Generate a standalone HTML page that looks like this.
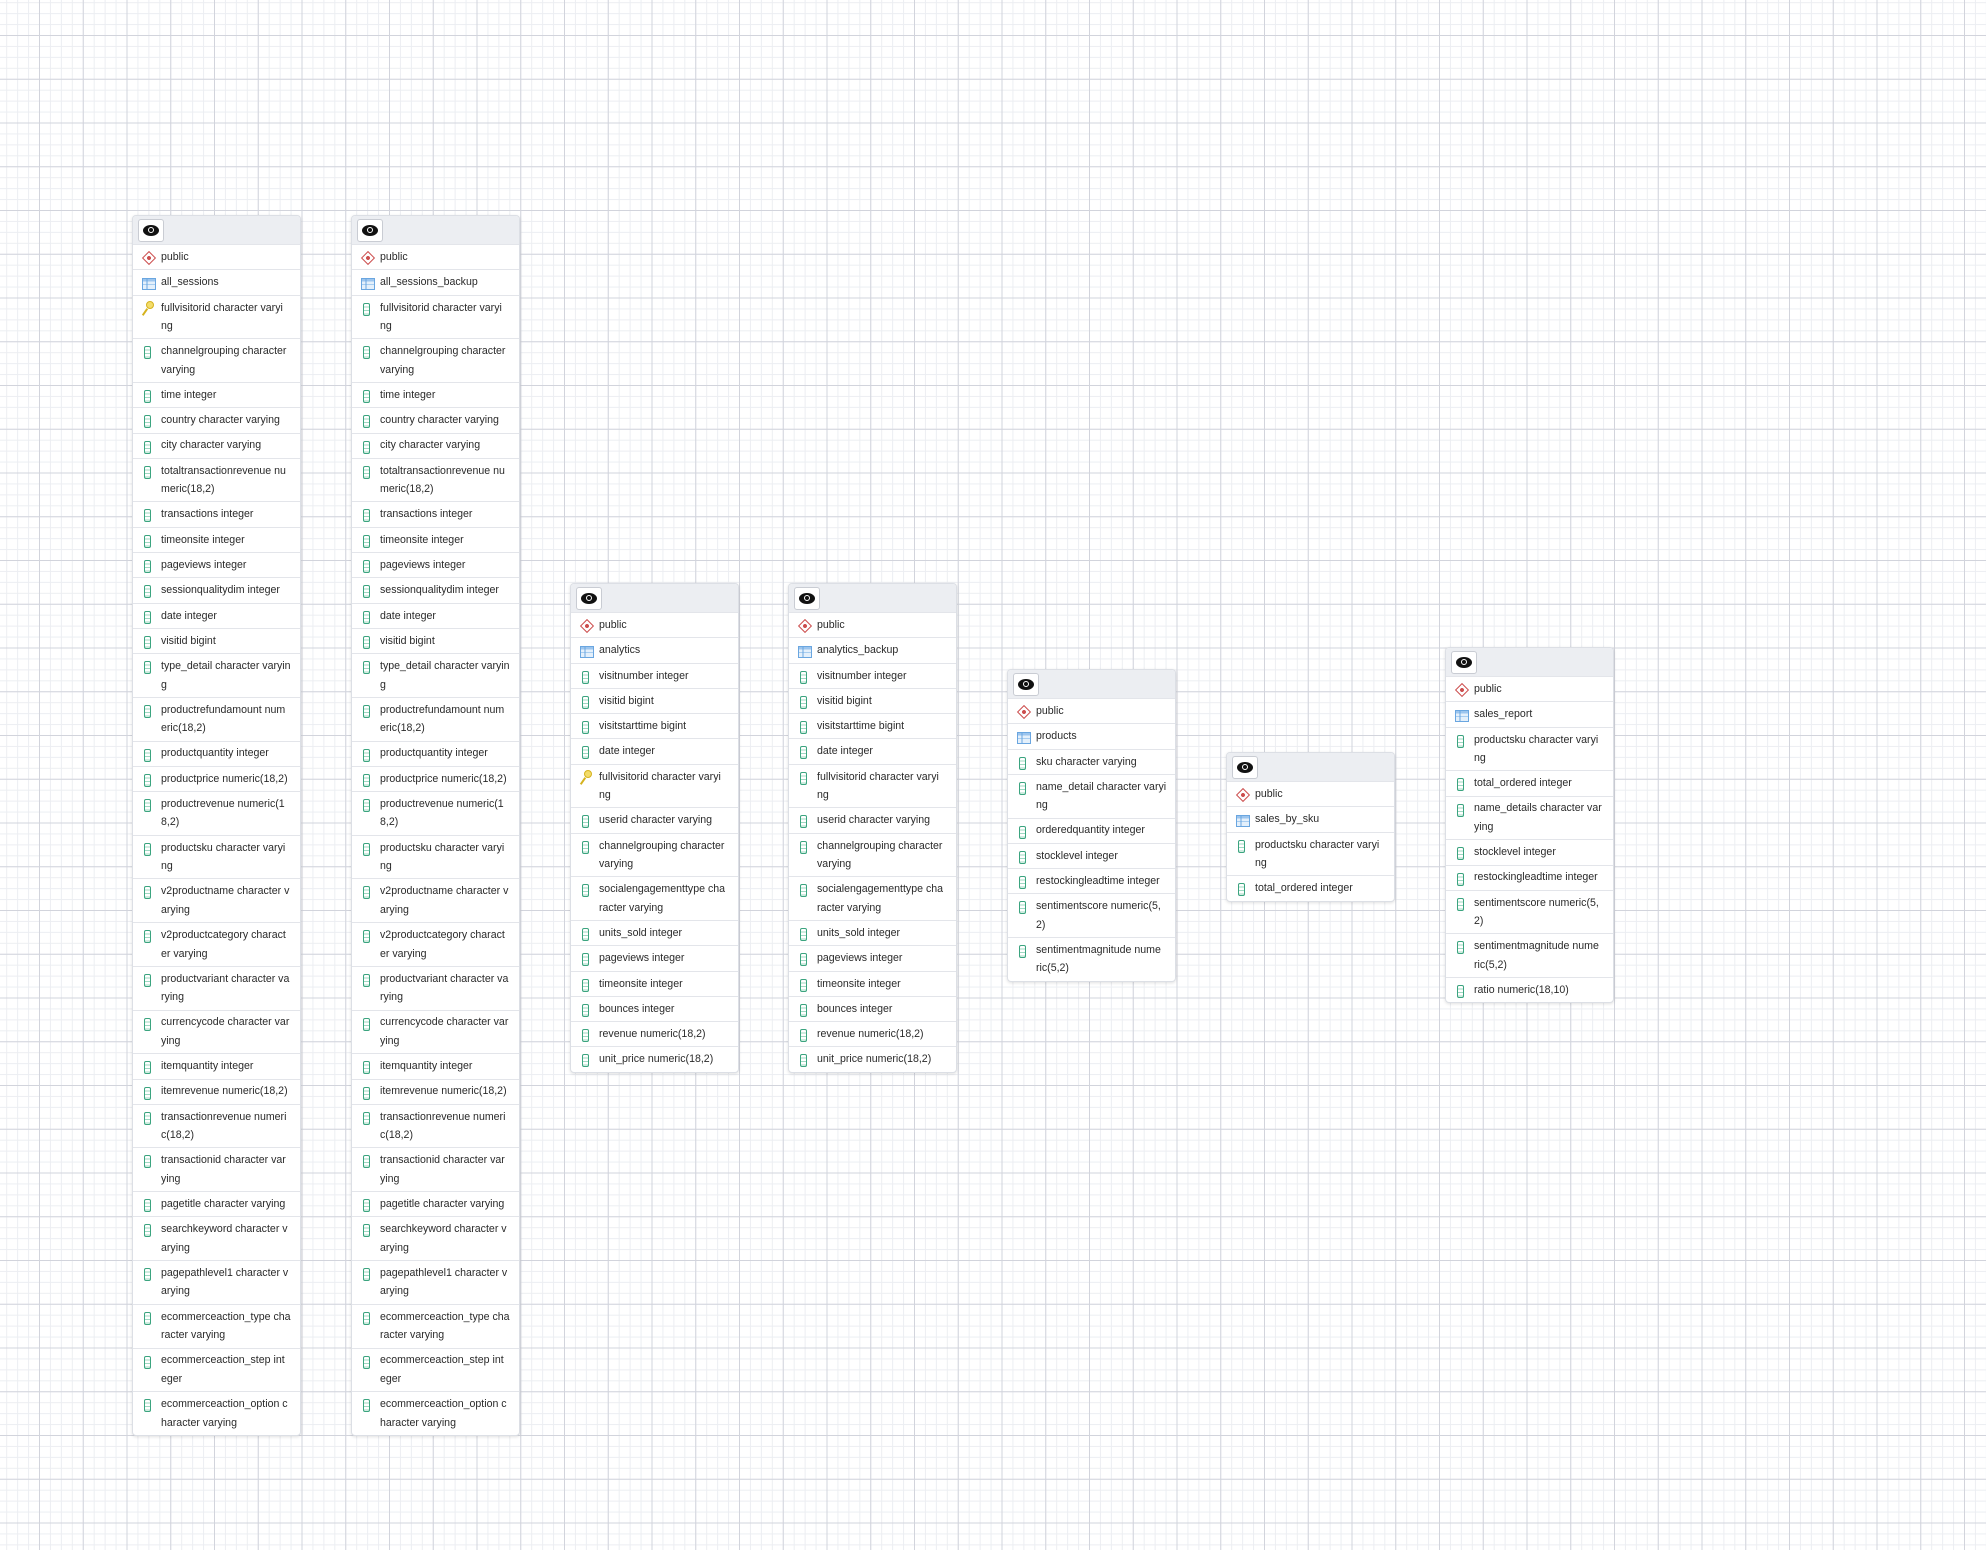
<!DOCTYPE html>
<html><head><meta charset="utf-8"><style>
html,body{margin:0;padding:0}
body{width:1986px;height:1550px;position:relative;overflow:hidden;background-color:#fff;
background-image:linear-gradient(to right,#d2d4dc 1px,transparent 1px),linear-gradient(to bottom,#d2d4dc 1px,transparent 1px),linear-gradient(to right,#eceef2 1px,transparent 1px),linear-gradient(to bottom,#eceef2 1px,transparent 1px);
background-size:43.75px 43.75px,43.75px 43.75px,10.9375px 10.9375px,10.9375px 10.9375px;
background-position:39px 35px,39px 35px,39px 35px,39px 35px;
font-family:"Liberation Sans",Arial,sans-serif}
.tb{position:absolute;width:167px;background:#fff;border:1px solid #dcdfe5;border-radius:4px;box-shadow:0 1px 3px rgba(0,0,0,.12);overflow:hidden}
.h{height:28px;background:#eceef2;position:relative}
.eye{position:absolute;left:5px;top:3px;width:24px;height:21px;border:1px solid #c9ccd3;border-radius:3px;background:#fff}
.eye::before{content:"";position:absolute;left:4px;top:5px;width:16px;height:11px;background:#111;border-radius:50%/50%}
.eye::after{content:"";position:absolute;left:9px;top:7px;width:4px;height:4px;border:1.5px solid #fff;border-radius:50%;background:#111}
.r{position:relative;padding:2.95px 2px 2.95px 28px;line-height:18.4px;border-top:1px solid #e3e5ea;font-size:10.6px;color:#2a2a2a;white-space:nowrap;overflow:hidden}
.r::before{content:"";position:absolute}
.c::before{left:11px;top:7px;width:5px;height:11px;border:1.3px solid #3ba47f;border-radius:2px;background:repeating-linear-gradient(to bottom,transparent 0 2.5px,#9fd8c2 2.5px 3.5px)}
.s::before{left:11px;top:8px;width:8px;height:8px;border:1.3px solid #cc4d4d;transform:rotate(45deg);background:radial-gradient(circle,#cc4d4d 0 1.8px,transparent 2.2px)}
.t::before{left:9px;top:8px;width:12px;height:10px;border:1px solid #6aa6e0;background:linear-gradient(to right,transparent 3.5px,#6aa6e0 3.5px 4.5px,transparent 4.5px),linear-gradient(to bottom,#9cc5ee 2.5px,transparent 2.5px,transparent 5px,#a8cdf0 5px 6px,transparent 6px),#e4f0fb}
.k::before{left:13px;top:5px;width:6px;height:6px;border:1.6px solid #d5b21e;border-radius:50%;background:#f3dc6a}
.k::after{content:"";position:absolute;left:11px;top:12px;width:2px;height:8px;background:#d5b21e;transform:rotate(35deg)}
</style></head><body>

<div class="tb" style="left:132px;top:215px"><div class="h"><div class="eye"></div></div>
<div class="r s">public</div><div class="r t">all_sessions</div>
<div class="r k">fullvisitorid character varyi<br>ng</div>
<div class="r c">channelgrouping character<br>varying</div>
<div class="r c">time integer</div>
<div class="r c">country character varying</div>
<div class="r c">city character varying</div>
<div class="r c">totaltransactionrevenue nu<br>meric(18,2)</div>
<div class="r c">transactions integer</div>
<div class="r c">timeonsite integer</div>
<div class="r c">pageviews integer</div>
<div class="r c">sessionqualitydim integer</div>
<div class="r c">date integer</div>
<div class="r c">visitid bigint</div>
<div class="r c">type_detail character varyin<br>g</div>
<div class="r c">productrefundamount num<br>eric(18,2)</div>
<div class="r c">productquantity integer</div>
<div class="r c">productprice numeric(18,2)</div>
<div class="r c">productrevenue numeric(1<br>8,2)</div>
<div class="r c">productsku character varyi<br>ng</div>
<div class="r c">v2productname character v<br>arying</div>
<div class="r c">v2productcategory charact<br>er varying</div>
<div class="r c">productvariant character va<br>rying</div>
<div class="r c">currencycode character var<br>ying</div>
<div class="r c">itemquantity integer</div>
<div class="r c">itemrevenue numeric(18,2)</div>
<div class="r c">transactionrevenue numeri<br>c(18,2)</div>
<div class="r c">transactionid character var<br>ying</div>
<div class="r c">pagetitle character varying</div>
<div class="r c">searchkeyword character v<br>arying</div>
<div class="r c">pagepathlevel1 character v<br>arying</div>
<div class="r c">ecommerceaction_type cha<br>racter varying</div>
<div class="r c">ecommerceaction_step int<br>eger</div>
<div class="r c">ecommerceaction_option c<br>haracter varying</div>
</div>

<div class="tb" style="left:351px;top:215px"><div class="h"><div class="eye"></div></div>
<div class="r s">public</div><div class="r t">all_sessions_backup</div>
<div class="r c">fullvisitorid character varyi<br>ng</div>
<div class="r c">channelgrouping character<br>varying</div>
<div class="r c">time integer</div>
<div class="r c">country character varying</div>
<div class="r c">city character varying</div>
<div class="r c">totaltransactionrevenue nu<br>meric(18,2)</div>
<div class="r c">transactions integer</div>
<div class="r c">timeonsite integer</div>
<div class="r c">pageviews integer</div>
<div class="r c">sessionqualitydim integer</div>
<div class="r c">date integer</div>
<div class="r c">visitid bigint</div>
<div class="r c">type_detail character varyin<br>g</div>
<div class="r c">productrefundamount num<br>eric(18,2)</div>
<div class="r c">productquantity integer</div>
<div class="r c">productprice numeric(18,2)</div>
<div class="r c">productrevenue numeric(1<br>8,2)</div>
<div class="r c">productsku character varyi<br>ng</div>
<div class="r c">v2productname character v<br>arying</div>
<div class="r c">v2productcategory charact<br>er varying</div>
<div class="r c">productvariant character va<br>rying</div>
<div class="r c">currencycode character var<br>ying</div>
<div class="r c">itemquantity integer</div>
<div class="r c">itemrevenue numeric(18,2)</div>
<div class="r c">transactionrevenue numeri<br>c(18,2)</div>
<div class="r c">transactionid character var<br>ying</div>
<div class="r c">pagetitle character varying</div>
<div class="r c">searchkeyword character v<br>arying</div>
<div class="r c">pagepathlevel1 character v<br>arying</div>
<div class="r c">ecommerceaction_type cha<br>racter varying</div>
<div class="r c">ecommerceaction_step int<br>eger</div>
<div class="r c">ecommerceaction_option c<br>haracter varying</div>
</div>

<div class="tb" style="left:570px;top:583px"><div class="h"><div class="eye"></div></div>
<div class="r s">public</div><div class="r t">analytics</div>
<div class="r c">visitnumber integer</div>
<div class="r c">visitid bigint</div>
<div class="r c">visitstarttime bigint</div>
<div class="r c">date integer</div>
<div class="r k">fullvisitorid character varyi<br>ng</div>
<div class="r c">userid character varying</div>
<div class="r c">channelgrouping character<br>varying</div>
<div class="r c">socialengagementtype cha<br>racter varying</div>
<div class="r c">units_sold integer</div>
<div class="r c">pageviews integer</div>
<div class="r c">timeonsite integer</div>
<div class="r c">bounces integer</div>
<div class="r c">revenue numeric(18,2)</div>
<div class="r c">unit_price numeric(18,2)</div>
</div>

<div class="tb" style="left:788px;top:583px"><div class="h"><div class="eye"></div></div>
<div class="r s">public</div><div class="r t">analytics_backup</div>
<div class="r c">visitnumber integer</div>
<div class="r c">visitid bigint</div>
<div class="r c">visitstarttime bigint</div>
<div class="r c">date integer</div>
<div class="r c">fullvisitorid character varyi<br>ng</div>
<div class="r c">userid character varying</div>
<div class="r c">channelgrouping character<br>varying</div>
<div class="r c">socialengagementtype cha<br>racter varying</div>
<div class="r c">units_sold integer</div>
<div class="r c">pageviews integer</div>
<div class="r c">timeonsite integer</div>
<div class="r c">bounces integer</div>
<div class="r c">revenue numeric(18,2)</div>
<div class="r c">unit_price numeric(18,2)</div>
</div>

<div class="tb" style="left:1007px;top:669px"><div class="h"><div class="eye"></div></div>
<div class="r s">public</div><div class="r t">products</div>
<div class="r c">sku character varying</div>
<div class="r c">name_detail character varyi<br>ng</div>
<div class="r c">orderedquantity integer</div>
<div class="r c">stocklevel integer</div>
<div class="r c">restockingleadtime integer</div>
<div class="r c">sentimentscore numeric(5,<br>2)</div>
<div class="r c">sentimentmagnitude nume<br>ric(5,2)</div>
</div>

<div class="tb" style="left:1226px;top:752px"><div class="h"><div class="eye"></div></div>
<div class="r s">public</div><div class="r t">sales_by_sku</div>
<div class="r c">productsku character varyi<br>ng</div>
<div class="r c">total_ordered integer</div>
</div>

<div class="tb" style="left:1445px;top:647px"><div class="h"><div class="eye"></div></div>
<div class="r s">public</div><div class="r t">sales_report</div>
<div class="r c">productsku character varyi<br>ng</div>
<div class="r c">total_ordered integer</div>
<div class="r c">name_details character var<br>ying</div>
<div class="r c">stocklevel integer</div>
<div class="r c">restockingleadtime integer</div>
<div class="r c">sentimentscore numeric(5,<br>2)</div>
<div class="r c">sentimentmagnitude nume<br>ric(5,2)</div>
<div class="r c">ratio numeric(18,10)</div>
</div>

</body></html>
